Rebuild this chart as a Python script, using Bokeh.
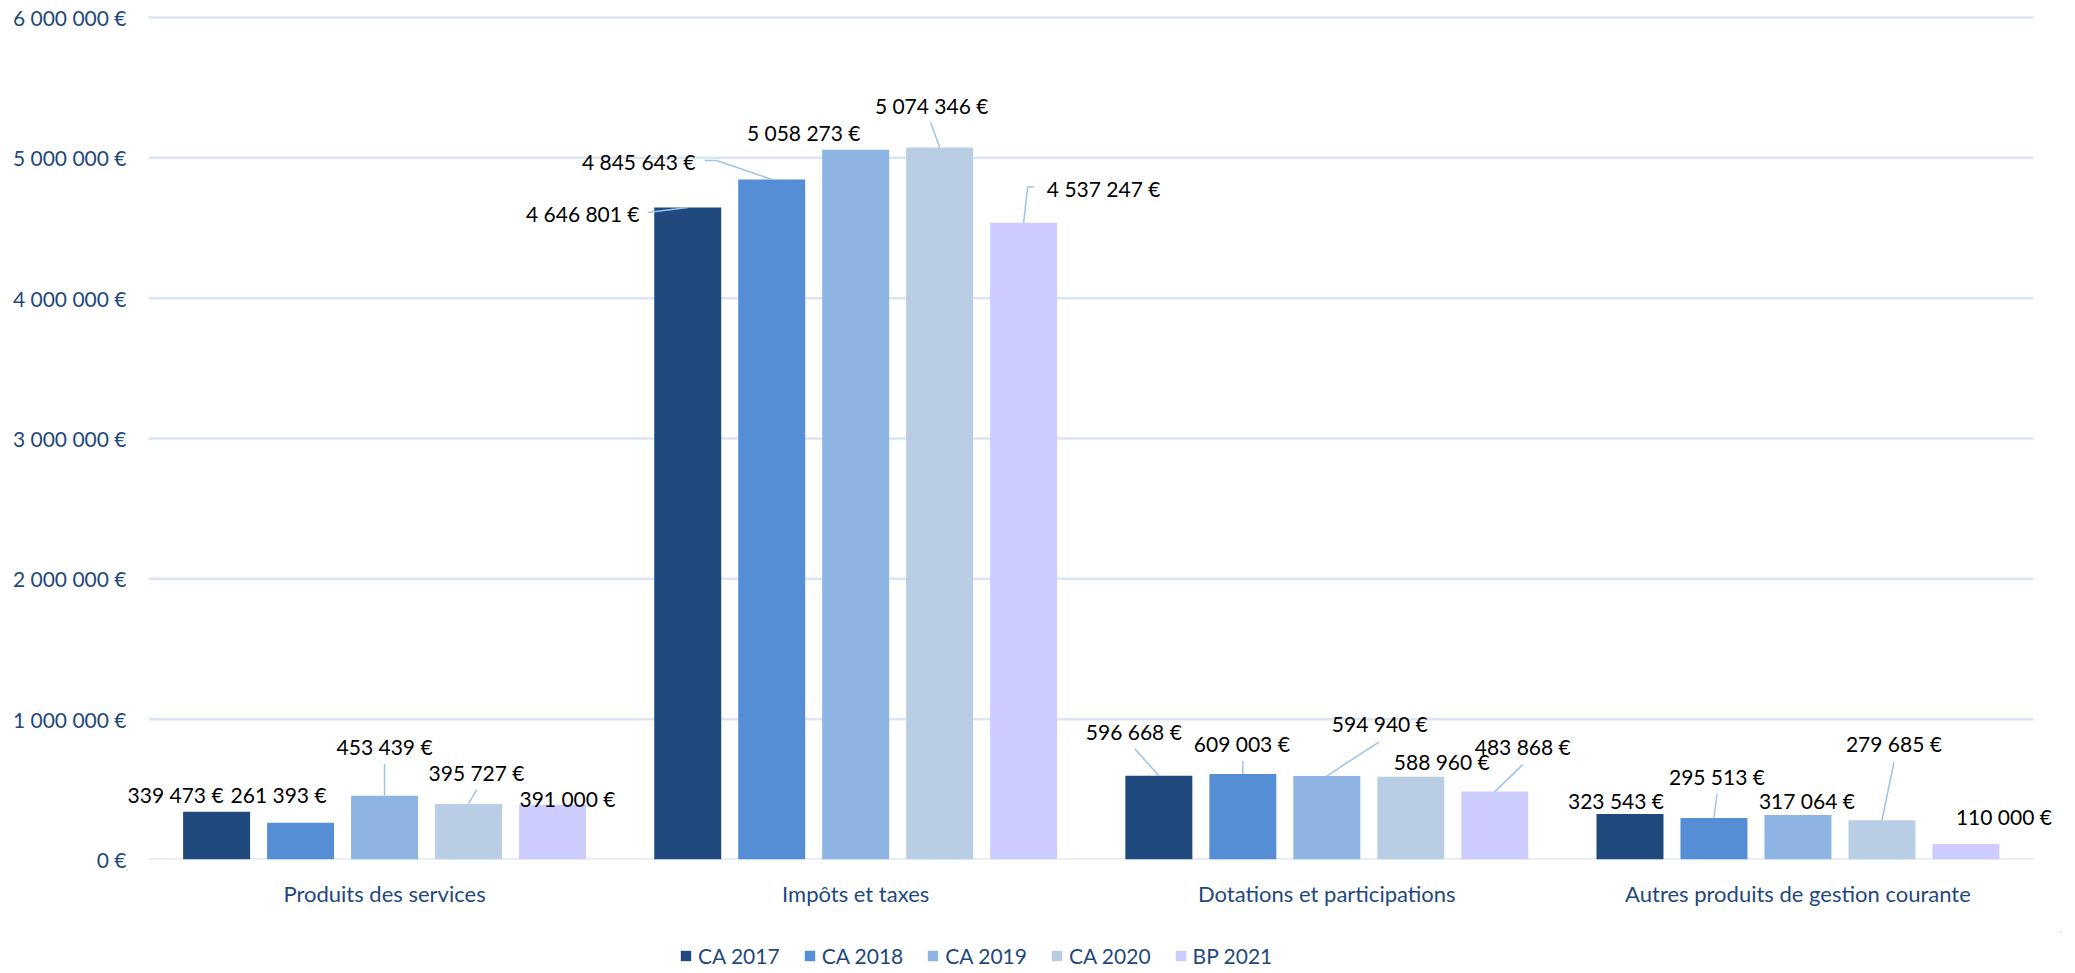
from bokeh.plotting import figure
from bokeh.layouts import column
from bokeh.models import Range1d, FixedTicker, Legend, LegendItem, ColumnDataSource, LabelSet
from bokeh.embed import file_html
from bokeh.resources import INLINE
from bokeh.core.properties import value

# ---------------- data ----------------
categories = ["Produits des services", "Impôts et taxes",
              "Dotations et participations", "Autres produits de gestion courante"]
series_names = ["CA 2017", "CA 2018", "CA 2019", "CA 2020", "BP 2021"]
ca_2017 = [339473, 4646801, 596668, 323543]
ca_2018 = [261393, 4845643, 609003, 295513]
ca_2019 = [453439, 5058273, 594940, 317064]
ca_2020 = [395727, 5074346, 588960, 279685]
bp_2021 = [391000, 4537247, 483868, 110000]
series_values = [ca_2017, ca_2018, ca_2019, ca_2020, bp_2021]
y_ticks = [0, 1000000, 2000000, 3000000, 4000000, 5000000, 6000000]
y_tick_labels = ["0 €", "1 000 000 €", "2 000 000 €", "3 000 000 €",
                 "4 000 000 €", "5 000 000 €", "6 000 000 €"]

# ---------------- style ----------------
colors = ["#1F497D", "#558ED5", "#8EB4E3", "#B9CDE5", "#CCCCFF"]
FONT = "Lato"
AXIS_COLOR = "#1F497D"
GRID_COLOR = "#DAE5F3"
LEADER_COLOR = "#9DC3E6"
FS_CAT = "22px"
FS = "21px"

W = 2067
H_MAIN, H_LEG = 931, 38
ML, MR, MT, MB = 127, 7, 15, 72
CAT_PX = 471.25          # pixel width of one category
PAD_L, PAD_R = 21.5, 27  # frame extends beyond the category area (for labels)
frame_h = H_MAIN - MT - MB
px_x = 1.0 / CAT_PX
px_y = 6000000.0 / (frame_h - 2)
y_top = px_y * frame_h
bar_pitch = 84 * px_x
bar_width = 67 * px_x

# label offsets (pixels, dx right / dy up) relative to top centre of each bar
label_dx = [[-41, -105, -25, -14], [-22, -133, -1, 3], [0, -52, 53, 9],
            [8, -8, 31, 12], [15, 80, 28, 38]]
label_dy = [[17, -6, 44, 14], [28, 18, 31, 42], [49, 17, 53, 15],
            [31, 42, 15, 77], [6, 34, 45, 28]]
# leader lines: (series, category, dx end, dy end, horizontal extension)
leaders = [(2, 0, 0, 32, 0), (3, 0, 8, 14, 0),
           (0, 1, -40, -5, 0), (1, 1, -55, 19, -12), (3, 1, -9, 25, 0), (4, 1, 4, 36, 6),
           (0, 2, -24, 27, 0), (1, 2, 0, 13, 0), (2, 2, 52, 34, 0), (4, 2, 28, 27, 0),
           (1, 3, 3, 24, 0), (3, 3, 12, 58, 0)]


def fmt(v):
    return "{:,}".format(v).replace(",", " ") + " €"


n_cat = len(categories)
p = figure(width=W, height=H_MAIN,
           x_range=Range1d(-PAD_L * px_x, n_cat + PAD_R * px_x),
           y_range=Range1d(0, y_top),
           output_backend="svg", toolbar_location=None,
           min_border_left=ML, min_border_right=MR, min_border_top=MT, min_border_bottom=MB)
p.outline_line_color = None
p.background_fill_color = "white"
p.border_fill_color = "white"
p.xgrid.visible = False
p.ygrid.visible = False

# horizontal gridlines over the category area
p.segment(x0=[0] * len(y_ticks), x1=[n_cat] * len(y_ticks), y0=y_ticks, y1=y_ticks,
          line_color=GRID_COLOR, line_width=2.5)

p.yaxis.ticker = FixedTicker(ticks=y_ticks)
p.yaxis.major_label_overrides = {t: l for t, l in zip(y_ticks, y_tick_labels)}
cat_pos = [i + 0.5 for i in range(n_cat)]
p.xaxis.ticker = FixedTicker(ticks=cat_pos)
p.xaxis.major_label_overrides = {c: n for c, n in zip(cat_pos, categories)}
for ax in (p.xaxis, p.yaxis):
    ax.axis_line_color = None
    ax.major_tick_line_color = None
    ax.minor_tick_line_color = None
    ax.major_tick_out = 0
    ax.major_tick_in = 0
    ax.major_label_text_font = FONT
    ax.major_label_text_color = AXIS_COLOR
p.yaxis.major_label_text_font_size = FS
p.xaxis.major_label_text_font_size = FS_CAT
p.yaxis.major_label_standoff = 1
p.xaxis.major_label_standoff = 20

for j, (name, vals) in enumerate(zip(series_names, series_values)):
    xs = [c + (j - 2) * bar_pitch for c in cat_pos]
    src = ColumnDataSource(dict(x=xs, top=vals))
    p.vbar(x="x", top="top", width=bar_width, source=src,
           fill_color=colors[j], line_color=None)
    lsrc = ColumnDataSource(dict(
        x=[x + dx * px_x for x, dx in zip(xs, label_dx[j])],
        y=[v + dy * px_y for v, dy in zip(vals, label_dy[j])],
        t=[fmt(v) for v in vals]))
    p.add_layout(LabelSet(x="x", y="y", text="t", source=lsrc, text_align="center",
                          text_baseline="middle", text_font=value(FONT),
                          text_font_size=value(FS), text_color="black"))

x0, y0, x1, y1 = [], [], [], []
for (j, i, dx, dy, hx) in leaders:
    bx = cat_pos[i] + (j - 2) * bar_pitch
    by = series_values[j][i]
    ex, ey = bx + dx * px_x, by + dy * px_y
    x0.append(bx); y0.append(by); x1.append(ex); y1.append(ey)
    if hx:
        x0.append(ex); y0.append(ey); x1.append(ex + hx * px_x); y1.append(ey)
p.segment(x0=x0, y0=y0, x1=x1, y1=y1, line_color=LEADER_COLOR, line_width=1.5)

# ---------------- legend strip (separate small figure under the chart) ----------------
p2 = figure(width=W, height=H_LEG, x_range=Range1d(-20, -10), y_range=Range1d(-20, -10),
            x_axis_type=None, y_axis_type=None,
            output_backend="svg", toolbar_location=None,
            min_border_left=0, min_border_right=0, min_border_top=0, min_border_bottom=0)
p2.grid.visible = False
p2.outline_line_color = None
p2.border_fill_color = "white"
p2.background_fill_color = "white"
items = []
for j, (name, vals) in enumerate(zip(series_names, series_values)):
    # same series, outside this strip's visible ranges: only its legend swatch shows
    r = p2.vbar(x=cat_pos, top=vals, width=bar_width, fill_color=colors[j], line_color=None)
    items.append(LegendItem(label=name, renderers=[r]))
legend = Legend(items=items, orientation="horizontal", location=(552, 1))
legend.glyph_width = 13
legend.glyph_height = 13
legend.label_standoff = 6
legend.spacing = 23
legend.padding = 0
legend.margin = 0
legend.label_height = 22
legend.border_line_color = None
legend.background_fill_alpha = 0
legend.label_text_font = FONT
legend.label_text_font_size = FS
legend.label_text_color = AXIS_COLOR
p2.add_layout(legend, "center")

layout = column(p, p2, spacing=0)
open("out.html", "w").write(file_html(layout, INLINE))
